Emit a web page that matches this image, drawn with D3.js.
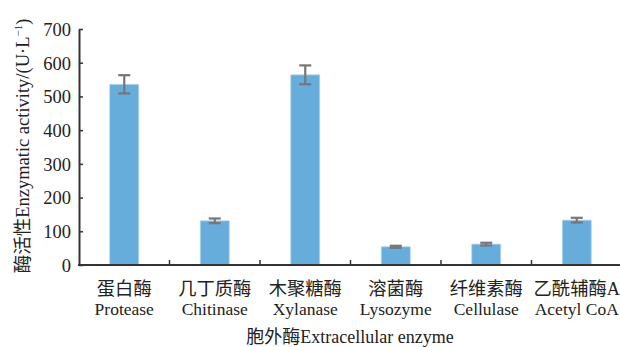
<!DOCTYPE html>
<html>
<head>
<meta charset="utf-8">
<script src="https://cdn.jsdelivr.net/npm/d3@7/dist/d3.min.js"></script>
<style>
  html, body { margin: 0; padding: 0; background: #fff; }
  svg { display: block; }
  text { font-family: "Liberation Serif", "Noto Sans CJK SC", serif; fill: #222; }
</style>
</head>
<body>
<svg id="chart" width="620" height="347"></svg>
<script>
// Extracellular enzyme activity, mean ± error
const categoriesCn = ["蛋白酶", "几丁质酶", "木聚糖酶", "溶菌酶", "纤维素酶", "乙酰辅酶A"];
const categoriesEn = ["Protease", "Chitinase", "Xylanase", "Lysozyme", "Cellulase", "Acetyl CoA"];
const activity = [536, 131, 564, 54, 62, 133];
const errors = [27, 7, 28, 3, 4, 7];
const yTicks = [0, 100, 200, 300, 400, 500, 600, 700];

const svg = d3.select("#chart");
const plotLeft = 79, plotRight = 622, plotTop = 29, plotBottom = 265;
const fontSize = 17.5;

const x = d3.scaleBand().domain(categoriesEn).range([plotLeft, plotRight]).paddingInner(0).paddingOuter(0);
const y = d3.scaleLinear().domain([0, 700]).range([plotBottom, plotTop]);
const barW = 29;

// bars
svg.append("g").selectAll("rect")
  .data(categoriesEn)
  .join("rect")
  .attr("x", (d) => x(d) + x.bandwidth() / 2 - barW / 2)
  .attr("y", (d, i) => y(activity[i]))
  .attr("width", barW)
  .attr("height", (d, i) => y(0) - y(activity[i]))
  .attr("fill", "#66addb")
  .attr("stroke", "#b5d6ee")
  .attr("stroke-width", 0.8);

// error bars
const eb = svg.append("g").attr("stroke", "#767676").attr("stroke-width", 2.2);
categoriesEn.forEach((d, i) => {
  const cx = x(d) + x.bandwidth() / 2;
  const hi = y(activity[i] + errors[i]);
  const lo = y(activity[i] - errors[i]);
  eb.append("line").attr("x1", cx).attr("x2", cx).attr("y1", hi).attr("y2", lo);
  eb.append("line").attr("x1", cx - 6).attr("x2", cx + 6).attr("y1", hi).attr("y2", hi);
  eb.append("line").attr("x1", cx - 6).attr("x2", cx + 6).attr("y1", lo).attr("y2", lo);
});

// y axis with inward ticks
const yAxis = d3.axisLeft(y).tickValues(yTicks).tickSizeInner(-4).tickSizeOuter(0).tickPadding(8);
const gy = svg.append("g").attr("transform", `translate(${plotLeft},0)`).call(yAxis);
gy.select(".domain").attr("stroke", "#333").attr("stroke-width", 2);
gy.selectAll(".tick line").attr("stroke", "#333").attr("stroke-width", 1.5);
gy.selectAll(".tick text")
  .attr("font-size", 18.5)
  .attr("font-family", "Liberation Serif")
  .attr("fill", "#222")
  .attr("dy", "0.34em");

// x axis: boundary ticks pointing up
const gx = svg.append("g");
gx.append("line")
  .attr("x1", plotLeft - 1).attr("x2", 620)
  .attr("y1", plotBottom).attr("y2", plotBottom)
  .attr("stroke", "#333").attr("stroke-width", 2);
categoriesEn.slice(1).forEach((d) => {
  gx.append("line")
    .attr("x1", x(d)).attr("x2", x(d))
    .attr("y1", plotBottom).attr("y2", plotBottom - 5)
    .attr("stroke", "#333").attr("stroke-width", 1.5);
});

// category labels (Chinese and English lines)
const lab = svg.append("g").attr("text-anchor", "middle");
categoriesEn.forEach((d, i) => {
  const cx = x(d) + x.bandwidth() / 2;
  lab.append("text").attr("x", cx).attr("y", 295).attr("font-size", 18.3).text(categoriesCn[i]);
  lab.append("text").attr("x", cx).attr("y", 315).attr("font-size", fontSize).text(d);
});

// axis titles
svg.append("text")
  .attr("x", 350).attr("y", 343)
  .attr("text-anchor", "middle")
  .attr("font-size", 18)
  .text("胞外酶Extracellular enzyme");

const yt = svg.append("text")
  .attr("transform", "translate(29,146) rotate(-90)")
  .attr("text-anchor", "middle")
  .attr("font-size", 18.5);
yt.append("tspan").text("酶活性Enzymatic activity/(U·L");
yt.append("tspan").attr("font-size", 11).attr("dy", -7).text("−1");
yt.append("tspan").attr("dy", 7).text(")");
</script>
</body>
</html>
